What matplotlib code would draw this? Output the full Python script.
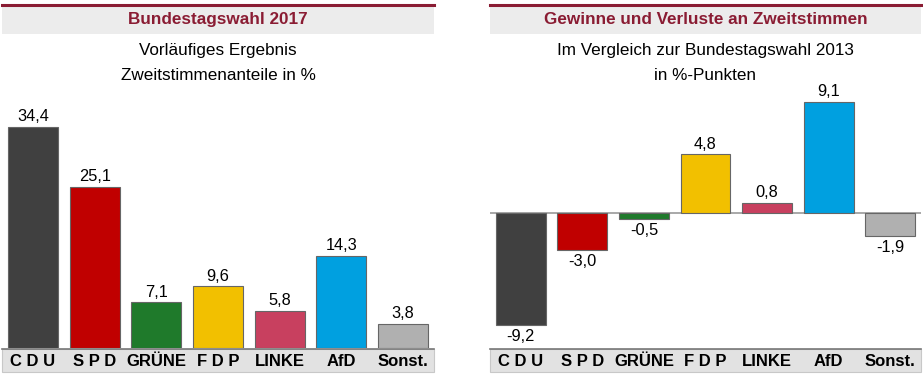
import matplotlib.pyplot as plt
from matplotlib.patches import Rectangle
from matplotlib.lines import Line2D

plt.rcParams['font.family'] = ['Liberation Sans', 'DejaVu Sans']

parteien = ['C D U', 'S P D', 'GRÜNE', 'F D P', 'LINKE', 'AfD', 'Sonst.']
anteile = [34.4, 25.1, 7.1, 9.6, 5.8, 14.3, 3.8]
diff = [-9.2, -3.0, -0.5, 4.8, 0.8, 9.1, -1.9]
farben = ['#404040', '#c00000', '#1f7a2b', '#f2c000', '#c8405f', '#00a0e0', '#b0b0b0']
titel = ['Bundestagswahl 2017', 'Gewinne und Verluste an Zweitstimmen']
untertitel = [['Vorläufiges Ergebnis', 'Zweitstimmenanteile in %'],
              ['Im Vergleich zur Bundestagswahl 2013', 'in %-Punkten']]

W, H = 923, 376
fig = plt.figure(figsize=(W / 100, H / 100), dpi=100)

def box(x0, y0, x1, y1):
    # pixel box (top-left origin) -> figure fraction rect
    return [x0 / W, 1 - y1 / H, (x1 - x0) / W, (y1 - y0) / H]

def fx(x):
    return x / W

def fy(y):
    return 1 - y / H

panels = [(2, 434), (490, 921)]
rot = '#8a1c33'

for i, (x0, x1) in enumerate(panels):
    xm = (x0 + x1) / 2
    # title band
    fig.add_artist(Rectangle((fx(x0), fy(34)), fx(x1) - fx(x0), fy(5) - fy(34),
                             facecolor='#ececec', edgecolor='none', transform=fig.transFigure))
    fig.add_artist(Line2D([fx(x0), fx(x1)], [fy(4.5), fy(4.5)], color=rot, lw=2.2,
                          transform=fig.transFigure))
    fig.text(fx(xm), fy(19.5), titel[i], color=rot, fontsize=12.3, fontweight='bold',
             ha='center', va='center')
    fig.text(fx(xm), fy(51), untertitel[i][0], fontsize=12.3, ha='center', va='center')
    fig.text(fx(xm), fy(76), untertitel[i][1], fontsize=12.3, ha='center', va='center')
    # category band
    fig.add_artist(Rectangle((fx(x0), fy(372)), fx(x1) - fx(x0), fy(349) - fy(372),
                             facecolor='#e2e2e2', edgecolor='#c8c8c8', lw=0.8,
                             transform=fig.transFigure))
    fig.add_artist(Line2D([fx(x0), fx(x1)], [fy(349), fy(349)], color='#777777', lw=1.2,
                          transform=fig.transFigure))
    # category labels
    step = (x1 - x0) / 7
    for k, name in enumerate(parteien):
        fig.text(fx(x0 + step * (k + 0.5)), fy(361), name, fontsize=12, fontweight='bold',
                 ha='center', va='center', zorder=5)

# left chart
ax1 = fig.add_axes(box(2, 91, 434, 348))
ax1.bar(range(7), anteile, width=0.81, color=farben, edgecolor='#666666', linewidth=0.8)
ax1.set_xlim(-0.5, 6.5)
ax1.set_ylim(0, 40)
for k, v in enumerate(anteile):
    ax1.annotate(f'{v:.1f}'.replace('.', ','), (k, v), xytext=(0, 2), textcoords='offset points',
                 ha='center', va='bottom', fontsize=11.8)

# right chart
ax2 = fig.add_axes(box(490, 91, 921, 348))
ax2.bar(range(7), diff, width=0.81, color=farben, edgecolor='#666666', linewidth=0.8)
ax2.set_xlim(-0.5, 6.5)
ax2.set_ylim(-11.07, 10.0)
ax2.axhline(0, color='#999999', lw=1.2, zorder=0)
for k, v in enumerate(diff):
    off = 2 if v >= 0 else -3
    ax2.annotate(f'{v:.1f}'.replace('.', ','), (k, v), xytext=(0, off), textcoords='offset points',
                 ha='center', va='bottom' if v >= 0 else 'top', fontsize=11.8)

for ax in (ax1, ax2):
    ax.axis('off')

fig.savefig('out.png', dpi=100)
